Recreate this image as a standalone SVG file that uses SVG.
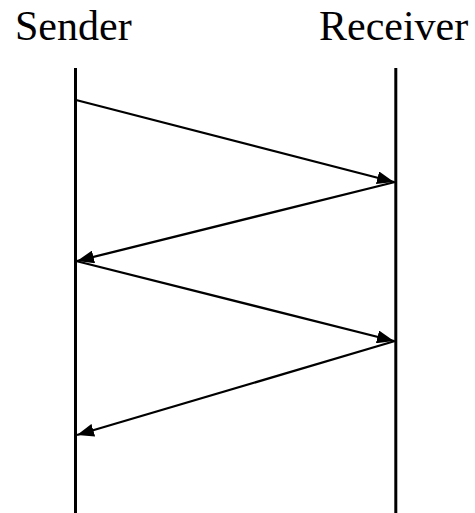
<svg xmlns="http://www.w3.org/2000/svg" width="475" height="513" viewBox="0 0 475 513">
<style>
.lbl{font-family:"Liberation Serif","Times New Roman",serif;font-size:42px;fill:#000}
.life{stroke:#000;stroke-width:3;fill:none}
.msg{stroke:#000;stroke-width:2.3;fill:none;marker-end:url(#ah)}
</style>
<defs>
<marker id="ah" markerUnits="userSpaceOnUse" viewBox="0 0 17 13" refX="17" refY="6.5" markerWidth="17" markerHeight="13" orient="auto">
<path d="M0,0 L17,6.5 L0,13 Z" fill="#000"/>
</marker>
</defs>
<rect width="475" height="513" fill="#fff"/>
<g id="sender">
<text class="lbl" x="15" y="40">Sender</text>
<line class="life" x1="75.5" y1="68" x2="75.5" y2="513"/>
</g>
<g id="receiver">
<text class="lbl" x="319" y="40">Receiver</text>
<line class="life" x1="395.8" y1="68" x2="395.8" y2="513"/>
</g>
<g id="connectors">
<line class="msg" x1="76" y1="100" x2="394" y2="182"/>
<line class="msg" x1="395" y1="182" x2="77" y2="261"/>
<line class="msg" x1="76" y1="261" x2="394" y2="341"/>
<line class="msg" x1="395" y1="341" x2="77" y2="435"/>
</g>
</svg>
